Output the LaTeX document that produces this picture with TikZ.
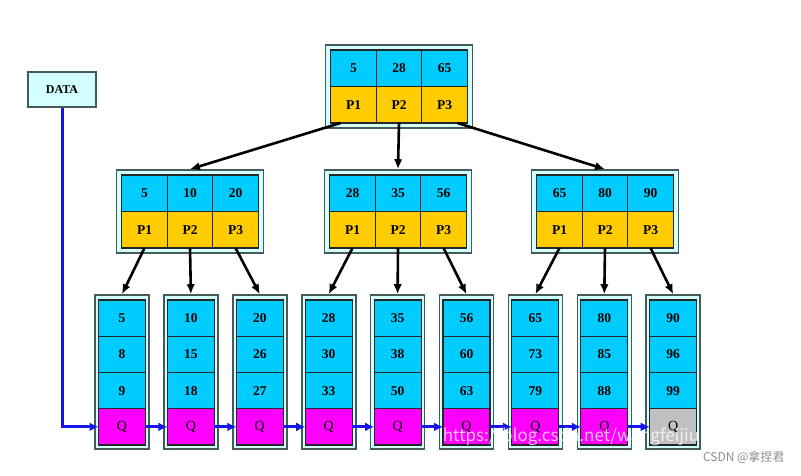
\documentclass[tikz,border=0pt]{standalone}
\usepackage{fontspec}
\setmainfont{Liberation Serif}
\newfontfamily\cjkfont{Noto Sans CJK SC}
\usepackage{tikz}
\usetikzlibrary{positioning}
\usetikzlibrary{arrows.meta}
\definecolor{keyblue}{RGB}{0,204,255}
\definecolor{ptryellow}{RGB}{255,204,0}
\definecolor{qpink}{RGB}{255,0,255}
\definecolor{qgray}{RGB}{192,192,192}
\definecolor{framecyan}{RGB}{210,255,255}
\definecolor{framegray}{RGB}{70,90,90}
\definecolor{linkblue}{RGB}{20,20,235}

\begin{document}
\begin{tikzpicture}
[
x=1pt, y=-1pt,
frame-a/.style={draw=framegray, fill=framecyan, line width=1.6pt, inner sep=0pt},
cell-a/.style={draw=black!85, line width=1.1pt, minimum width=45.5pt, minimum height=36.5pt,
               inner sep=0pt, outer sep=0pt, font=\fontsize{13.5}{15}\selectfont\bfseries},
cell-b/.style={cell-a, minimum width=47pt, minimum height=36.25pt},
data-a/.style={draw=framegray, fill=framecyan, line width=1.3pt, minimum width=68pt,
               minimum height=35pt, font=\fontsize{12}{13}\selectfont\bfseries},
tree-arrow/.style={-{Latex[length=10pt,width=8.5pt]}, line width=2.6pt, black},
link-a/.style={-{Latex[length=9pt,width=9pt]}, line width=3pt, linkblue},
]
\useasboundingbox (0,0) rectangle (801,475);

% index nodes
\foreach \nm/\x/\y/\ka/\kb/\kc in {root/399/86.5/5/28/65, nl/190/211.5/5/10/20,
                                   nc/398/211.5/28/35/56, nr/605/211.5/65/80/90}
{
\node (\nm)    [frame-a, minimum width=147pt, minimum height=83pt] at (\x,\y) {};
\node (\nm-k2) [cell-a, fill=keyblue] at (\x,\y-18.25)        {\kb};
\node (\nm-k1) [cell-a, fill=keyblue,   left  = 0pt of \nm-k2] {\ka};
\node (\nm-k3) [cell-a, fill=keyblue,   right = 0pt of \nm-k2] {\kc};
\node (\nm-p1) [cell-a, fill=ptryellow, below = 0pt of \nm-k1] {P1};
\node (\nm-p2) [cell-a, fill=ptryellow, below = 0pt of \nm-k2] {P2};
\node (\nm-p3) [cell-a, fill=ptryellow, below = 0pt of \nm-k3] {P3};
}

% leaf nodes
\foreach \i/\ka/\kb/\kc/\qc in {1/5/8/9/qpink, 2/10/15/18/qpink, 3/20/26/27/qpink,
                                4/28/30/33/qpink, 5/35/38/50/qpink, 6/56/60/63/qpink,
                                7/65/73/79/qpink, 8/80/85/88/qpink, 9/90/96/99/qgray}
{
\node (l\i)    [frame-a, minimum width=54pt, minimum height=154pt] at ({122+(\i-1)*68.9},372) {};
\node (l\i-k1) [cell-b, fill=keyblue] at ({122+(\i-1)*68.9},318.1) {\ka};
\node (l\i-k2) [cell-b, fill=keyblue, below = 0pt of l\i-k1] {\kb};
\node (l\i-k3) [cell-b, fill=keyblue, below = 0pt of l\i-k2] {\kc};
\node (l\i-q)  [cell-b, fill=\qc, font=\fontsize{14}{15}\selectfont, below = 0pt of l\i-k3] {Q};
}

\node (data) [data-a] at (62,89.5) {DATA};

% tree pointers
\draw [tree-arrow] ([xshift=-13pt]root-p1.south) -- (nl.north);
\draw [tree-arrow] (root-p2.south) -- (nc.north);
\draw [tree-arrow] ([xshift=13pt]root-p3.south) -- (nr.north);
\foreach \m/\a/\b/\c in {nl/1/2/3, nc/4/5/6, nr/7/8/9}
{
\draw [tree-arrow] (\m-p1.south) -- (l\a.north);
\draw [tree-arrow] (\m-p2.south) -- (l\b.north);
\draw [tree-arrow] (\m-p3.south) -- (l\c.north);
}

% leaf chain
\draw [link-a] (data.south) |- (l1-q.west);
\foreach \i [evaluate=\i as \j using int(\i+1)] in {1,...,8}
  \draw [link-a] (l\i-q) -- (l\j-q);

% watermarks
\node (url)  [text=white, opacity=0.75, font=\cjkfont\fontsize{17}{17}\selectfont] at (571,437)
             {https://blog.csdn.net/wangfeijiu};
\node (csdn) [text=black!45, anchor=east, font=\cjkfont\fontsize{12}{12}\selectfont] at (788,457)
             {CSDN @拿捏君};
\end{tikzpicture}
\end{document}
